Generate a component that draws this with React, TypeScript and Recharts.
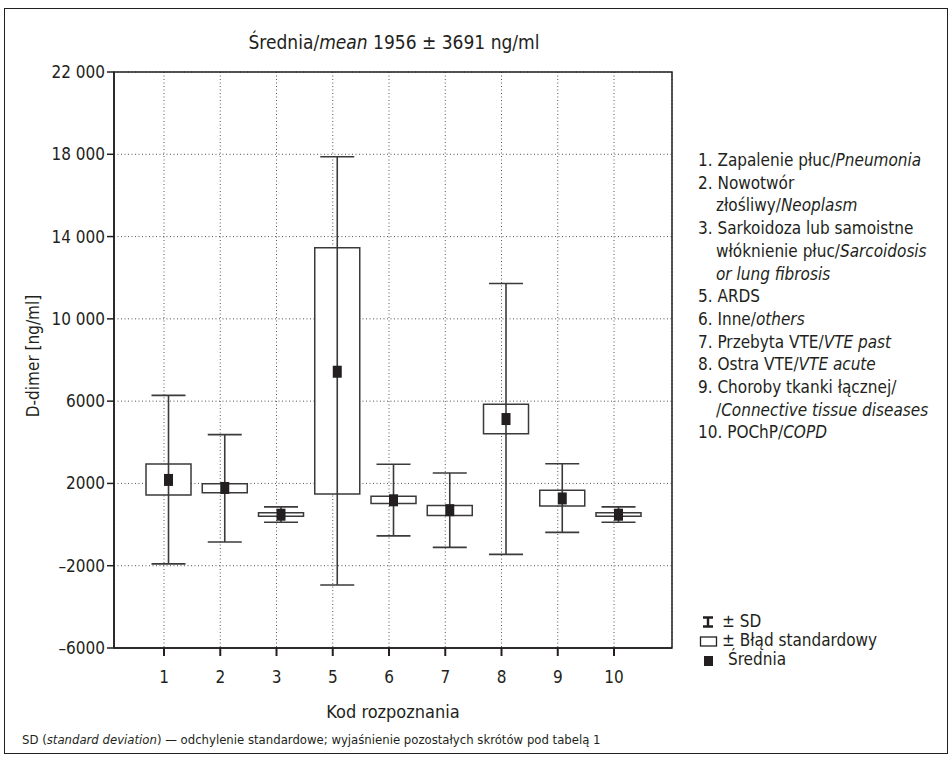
import {
  CartesianGrid,
  ComposedChart,
  ErrorBar,
  ReferenceArea,
  Scatter,
  XAxis,
  YAxis,
} from 'recharts'

// diagnosis codes on the x axis
const codes = ['1', '2', '3', '5', '6', '7', '8', '9', '10']
// D-dimer, ng/ml
const means = [2170, 1780, 480, 7430, 1180, 700, 5130, 1270, 480]
const sdLow = [-1910, -850, 110, -2940, -550, -1110, -1450, -380, 110]
const sdHigh = [6280, 4370, 860, 17880, 2930, 2510, 11720, 2960, 860]
const seLow = [1440, 1550, 410, 1490, 1020, 440, 4420, 900, 410]
const seHigh = [2940, 1990, 570, 13460, 1380, 930, 5850, 1670, 570]

const yTicks = [-6000, -2000, 2000, 6000, 10000, 14000, 18000, 22000]
const yTickLabels = ['–6000', '–2000', '2000', '6000', '10 000', '14 000', '18 000', '22 000']
const xTicks = codes.map((_, i) => i + 1)

// right-hand key: [plain, italic, indented]
const keyLines: [string, string, boolean][] = [
  ['1. Zapalenie płuc/', 'Pneumonia', false],
  ['2. Nowotwór', '', false],
  ['złośliwy/', 'Neoplasm', true],
  ['3. Sarkoidoza lub samoistne', '', false],
  ['włóknienie płuc/', 'Sarcoidosis', true],
  ['', 'or lung fibrosis', true],
  ['5. ARDS', '', false],
  ['6. Inne/', 'others', false],
  ['7. Przebyta VTE/', 'VTE past', false],
  ['8. Ostra VTE/', 'VTE acute', false],
  ['9. Choroby tkanki łącznej/', '', false],
  ['/', 'Connective tissue diseases', true],
  ['10. POChP/', 'COPD', false],
]

const FONT = "'Liberation Sans Narrow', 'DejaVu Sans Condensed', 'Roboto Condensed', Arial, sans-serif"
const INK = '#231f20'
const MARK_SHIFT = 0.08 // boxes sit a little right of the grid lines
const BOX_HALF = 0.4

const rows = codes.map((code, i) => ({
  code,
  pos: i + 1 + MARK_SHIFT,
  mean: means[i],
  sd: [means[i] - sdLow[i], sdHigh[i] - means[i]],
}))

function MeanSquare(p: any) {
  return <rect x={p.cx - 4.5} y={p.cy - 6} width={9} height={12} fill={INK} />
}

export default function App() {
  return (
    <div style={{ position: 'absolute', left: 0, top: 0, width: 949, height: 764, fontFamily: FONT, color: INK, background: '#fff' }}>
      <div style={{ position: 'absolute', left: 4, top: 8, width: 944, height: 746, border: `1.5px solid ${INK}`, boxSizing: 'border-box' }} />
      <div style={{ position: 'absolute', left: 0, top: 0 }}>
        <ComposedChart width={949} height={764} data={rows} margin={{ top: 72, right: 277, bottom: 86, left: 44 }}>
          <CartesianGrid stroke="#555" strokeDasharray="1 2.5" />
          <XAxis
            type="number"
            dataKey="pos"
            domain={[0.111, 10.031]}
            ticks={xTicks}
            tickFormatter={(v: number) => codes[v - 1]}
            height={30}
            tickSize={8}
            tickMargin={15}
            axisLine={{ stroke: INK, strokeWidth: 1.5 }}
            tickLine={{ stroke: INK, strokeWidth: 2 }}
            tick={{ fontSize: 17, fill: INK, fontFamily: FONT }}
            allowDataOverflow
          />
          <YAxis
            type="number"
            domain={[-6000, 22000]}
            ticks={yTicks}
            tickFormatter={(v: number) => yTickLabels[yTicks.indexOf(v)]}
            width={70}
            tickSize={7}
            tickMargin={2}
            axisLine={{ stroke: INK, strokeWidth: 1.5 }}
            tickLine={{ stroke: INK, strokeWidth: 1.5 }}
            tick={{ fontSize: 17, fill: INK, fontFamily: FONT }}
            allowDataOverflow
          />
          <ReferenceArea x1={0.111} x2={10.031} y1={-6000} y2={22000} fill="none" stroke={INK} strokeWidth={1.5} />
          {rows.map((r, i) => (
            <ReferenceArea
              key={r.code}
              x1={r.pos - BOX_HALF}
              x2={r.pos + BOX_HALF}
              y1={seLow[i]}
              y2={seHigh[i]}
              fill="#fff"
              fillOpacity={1}
              stroke="#3a3a3a"
              strokeWidth={1.5}
            />
          ))}
          <Scatter dataKey="mean" shape={MeanSquare} isAnimationActive={false}>
            <ErrorBar dataKey="sd" direction="y" width={17} stroke="#3a3a3a" strokeWidth={1.6} />
          </Scatter>
        </ComposedChart>
      </div>

      <div style={{ position: 'absolute', left: 194, top: 31, width: 400, textAlign: 'center', fontSize: 19 }}>
        Średnia/<i>mean</i> 1956 ± 3691 ng/ml
      </div>
      <div style={{ position: 'absolute', left: 33, top: 356, transform: 'translate(-50%, -50%) rotate(-90deg)', fontSize: 17, whiteSpace: 'nowrap' }}>
        D-dimer [ng/ml]
      </div>
      <div style={{ position: 'absolute', left: 193, top: 701, width: 400, textAlign: 'center', fontSize: 18 }}>
        Kod rozpoznania
      </div>

      <div style={{ position: 'absolute', left: 698, top: 149, fontSize: 17, lineHeight: '22.7px' }}>
        {keyLines.map(([plain, ital, indent], i) => (
          <div key={i} style={{ paddingLeft: indent ? 18 : 0, whiteSpace: 'nowrap' }}>
            {plain}
            {ital && <i>{ital}</i>}
          </div>
        ))}
      </div>

      <div style={{ position: 'absolute', left: 698, top: 612, fontSize: 17, lineHeight: '19px' }}>
        <div style={{ display: 'flex', alignItems: 'center' }}>
          <svg width={22} height={14}>
            <path d="M5 2.5H15M10 2.5V11.5M5 11.5H15" stroke={INK} strokeWidth={2.4} fill="none" />
          </svg>
          <span style={{ marginLeft: 2 }}>± SD</span>
        </div>
        <div style={{ display: 'flex', alignItems: 'center' }}>
          <svg width={22} height={14}>
            <rect x={2.5} y={3} width={16} height={9} stroke={INK} strokeWidth={1.3} fill="none" />
          </svg>
          <span style={{ marginLeft: 2 }}>± Błąd standardowy</span>
        </div>
        <div style={{ display: 'flex', alignItems: 'center' }}>
          <svg width={22} height={14}>
            <rect x={6} y={3} width={9} height={10} fill={INK} />
          </svg>
          <span style={{ marginLeft: 8 }}>Średnia</span>
        </div>
      </div>

      <div style={{ position: 'absolute', left: 22, top: 732, fontSize: 13, whiteSpace: 'nowrap' }}>
        SD (<i>standard deviation</i>) — odchylenie standardowe; wyjaśnienie pozostałych skrótów pod tabelą 1
      </div>
    </div>
  )
}
